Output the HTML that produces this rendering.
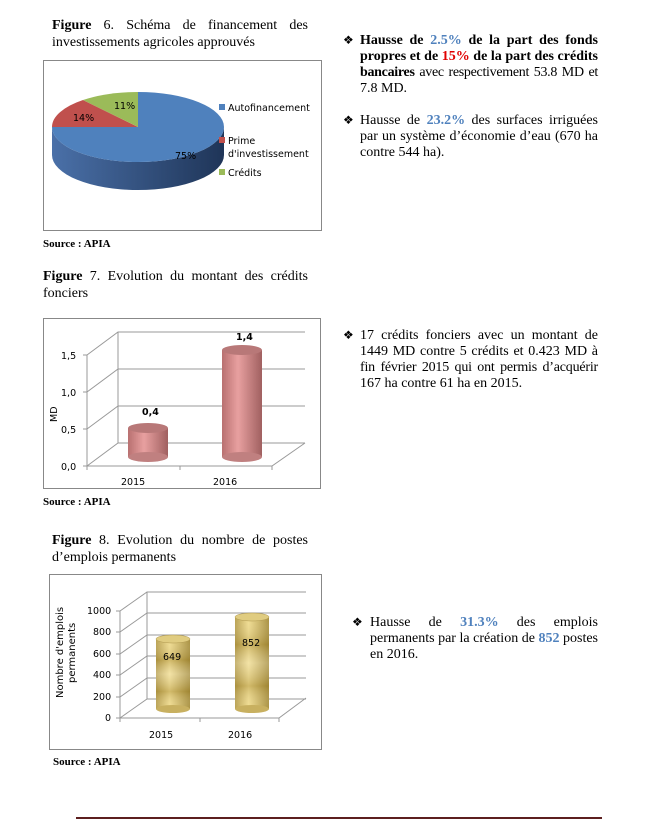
<!DOCTYPE html>
<html><head><meta charset="utf-8"><style>
body{margin:0;width:668px;height:820px;background:#fff;position:relative;overflow:hidden;font-family:"Liberation Serif",serif;color:#000}
.cap{position:absolute;left:52px;width:256px;font-size:14px;line-height:17px;text-align:justify;text-align-last:justify}
.src{position:absolute;font-size:11px;font-weight:bold}
.b{position:absolute;left:360px;width:238px;font-size:14px;line-height:16px}
.b span.l{display:block;white-space:nowrap;text-align:justify;text-align-last:justify}
.b span.e{display:block;white-space:nowrap}
.bl{color:#4f81bd}.rd{color:#e00000}
.dia{position:absolute;font-size:12px}
svg{position:absolute;left:0;top:0}
svg text{font-family:"DejaVu Sans","Liberation Sans",sans-serif}
</style></head><body>
<div class="cap" style="top:17px"><b>Figure</b> 6. Schéma de financement des</div>
<div class="cap" style="top:34px;text-align-last:left">investissements agricoles approuvés</div>
<div class="src" style="left:43px;top:238px">Source : APIA</div>

<div class="cap" style="top:268px;left:43px;width:265px"><b>Figure</b> 7. Evolution du montant des crédits</div>
<div class="cap" style="top:285px;left:43px;text-align-last:left">fonciers</div>
<div class="src" style="left:43px;top:496px">Source : APIA</div>

<div class="cap" style="top:532px;width:256px"><b>Figure</b> 8. Evolution du nombre de postes</div>
<div class="cap" style="top:549px;text-align-last:left">d’emplois permanents</div>
<div class="src" style="left:53px;top:756px">Source : APIA</div>

<div class="dia" style="left:343px;top:33px">❖</div>
<div class="b" style="top:33px;font-weight:bold">
<span class="l">Hausse de <span class="bl">2.5%</span> de la part des fonds</span>
<span class="l">propres et de <span class="rd">15%</span> de la part des crédits</span>
<span class="l" style="letter-spacing:-0.3px;word-spacing:-1px">bancaires <span style="font-weight:normal">avec respectivement 53.8 MD et</span></span>
<span class="e" style="font-weight:normal">7.8 MD.</span></div>
<div class="dia" style="left:343px;top:113px">❖</div>
<div class="b" style="top:113px">
<span class="l">Hausse de <b class="bl">23.2%</b> des surfaces irriguées</span>
<span class="l">par un système d’économie d’eau (670 ha</span>
<span class="e">contre 544 ha).</span></div>
<div class="dia" style="left:343px;top:328px">❖</div>
<div class="b" style="top:328px">
<span class="l">17 crédits fonciers avec un montant de</span>
<span class="l">1449 MD contre 5 crédits et 0.423 MD à</span>
<span class="l" style="letter-spacing:-0.2px">fin février 2015 qui ont permis d’acquérir</span>
<span class="e">167 ha contre 61 ha en 2015.</span></div>
<div class="dia" style="left:352px;top:615px">❖</div>
<div class="b" style="top:615px;left:370px;width:228px">
<span class="l">Hausse de <b class="bl">31.3%</b> des emplois</span>
<span class="l">permanents par la création de <b class="bl">852</b> postes</span>
<span class="e">en 2016.</span></div>

<div style="position:absolute;left:76px;top:817px;width:526px;height:2px;background:#5c1f1f"></div>

<svg width="668" height="820">
<defs>
<linearGradient id="side" x1="0" x2="1"><stop offset="0" stop-color="#4a70a8"/><stop offset="1" stop-color="#1f3558"/></linearGradient>
<linearGradient id="cyl" x1="0" x2="1"><stop offset="0" stop-color="#b87070"/><stop offset="0.4" stop-color="#e8a0a0"/><stop offset="1" stop-color="#a06060"/></linearGradient>
<linearGradient id="gold" x1="0" x2="1"><stop offset="0" stop-color="#b8a050"/><stop offset="0.4" stop-color="#f0dc90"/><stop offset="1" stop-color="#a89040"/></linearGradient>
<linearGradient id="goldv" x1="0" y1="0" x2="0" y2="1"><stop offset="0" stop-color="#fff" stop-opacity="0"/><stop offset="0.3" stop-color="#8a6a10" stop-opacity="0.3"/><stop offset="0.5" stop-color="#fff" stop-opacity="0.2"/><stop offset="0.75" stop-color="#8a6a10" stop-opacity="0.3"/><stop offset="1" stop-color="#fff" stop-opacity="0"/></linearGradient>
</defs>
<rect x="43.5" y="60.5" width="278" height="170" fill="none" stroke="#888"/>
<path d="M224,127 A86,35 0 0 1 52,127 L52,155 A86,35 0 0 0 224,155 Z" fill="url(#side)"/>
<path d="M138,127 L138,92 A86,35 0 1 1 52,127 Z" fill="#4f81bd"/>
<path d="M138,127 L52,127 A86,35 0 0 1 83,100 Z" fill="#c0504d"/>
<path d="M138,127 L83,100 A86,35 0 0 1 138,92 Z" fill="#9bbb59"/>
<g font-size="9.5">
<text x="114" y="109">11%</text><text x="73" y="121">14%</text><text x="175" y="159">75%</text>
<rect x="219" y="104" width="6" height="6" fill="#4f81bd"/><text x="228" y="111">Autofinancement</text>
<rect x="219" y="137" width="6" height="6" fill="#c0504d"/><text x="228" y="144">Prime</text><text x="228" y="157">d'investissement</text>
<rect x="219" y="169" width="6" height="6" fill="#9bbb59"/><text x="228" y="176">Crédits</text>
</g>
<rect x="43.5" y="318.5" width="277" height="170" fill="none" stroke="#888"/>
<g stroke="#999" fill="none">
<path d="M87,355V466H272L305,443"/>
<path d="M87,355L118,332H305M87,392L118,369H305M87,429L118,406H305M87,466L118,443H305M118,332V443"/>
<path d="M83,355h4M83,392h4M83,429h4M83,466h4M87,466v4M180,466v4M272,466v4"/>
</g>
<rect x="128" y="428" width="40" height="29" fill="url(#cyl)"/><ellipse cx="148" cy="457" rx="20" ry="5" fill="#c08080"/><ellipse cx="148" cy="428" rx="20" ry="5" fill="#b87878"/>
<rect x="222" y="350" width="40" height="107" fill="url(#cyl)"/><ellipse cx="242" cy="457" rx="20" ry="5" fill="#c08080"/><ellipse cx="242" cy="350" rx="20" ry="5" fill="#b87878"/>
<g font-size="9.5"><text x="61" y="359">1,5</text><text x="61" y="396">1,0</text><text x="61" y="433">0,5</text><text x="61" y="470">0,0</text>
<text x="121" y="485">2015</text><text x="213" y="485">2016</text>
<text x="142" y="415" font-weight="bold">0,4</text><text x="236" y="340" font-weight="bold">1,4</text>
<text transform="translate(57,422) rotate(-90)">MD</text></g>
<rect x="49.5" y="574.5" width="272" height="175" fill="none" stroke="#888"/>
<g stroke="#999" fill="none">
<path d="M120,611V718H279L306,698"/>
<path d="M120,611L147,592H306M120,632L147,613H306M120,654L147,635H306M120,675L147,656H306M120,697L147,678H306M120,718L147,699H306M147,592V699"/>
<path d="M116,611h4M116,632h4M116,654h4M116,675h4M116,697h4M116,718h4M120,718v4M200,718v4M279,718v4"/>
</g>
<rect x="156" y="639" width="34" height="70" fill="url(#gold)"/><rect x="156" y="639" width="34" height="70" fill="url(#goldv)"/><ellipse cx="173" cy="709" rx="17" ry="4" fill="#c8b060"/><ellipse cx="173" cy="639" rx="17" ry="4" fill="#e0cc80" stroke="#b09850" stroke-width="0.5"/>
<rect x="235" y="617" width="34" height="92" fill="url(#gold)"/><rect x="235" y="617" width="34" height="92" fill="url(#goldv)"/><ellipse cx="252" cy="709" rx="17" ry="4" fill="#c8b060"/><ellipse cx="252" cy="617" rx="17" ry="4" fill="#e0cc80" stroke="#b09850" stroke-width="0.5"/>
<g font-size="9.5"><text x="87" y="614">1000</text><text x="93" y="635">800</text><text x="93" y="657">600</text><text x="93" y="678">400</text><text x="93" y="700">200</text><text x="105" y="721">0</text>
<text x="149" y="738">2015</text><text x="228" y="738">2016</text>
<text x="163" y="660">649</text><text x="242" y="646">852</text>
<text transform="translate(63,698) rotate(-90)" font-size="10">Nombre d'emplois</text>
<text transform="translate(75,683) rotate(-90)" font-size="10">permanents</text></g>
</svg>
</body></html>
